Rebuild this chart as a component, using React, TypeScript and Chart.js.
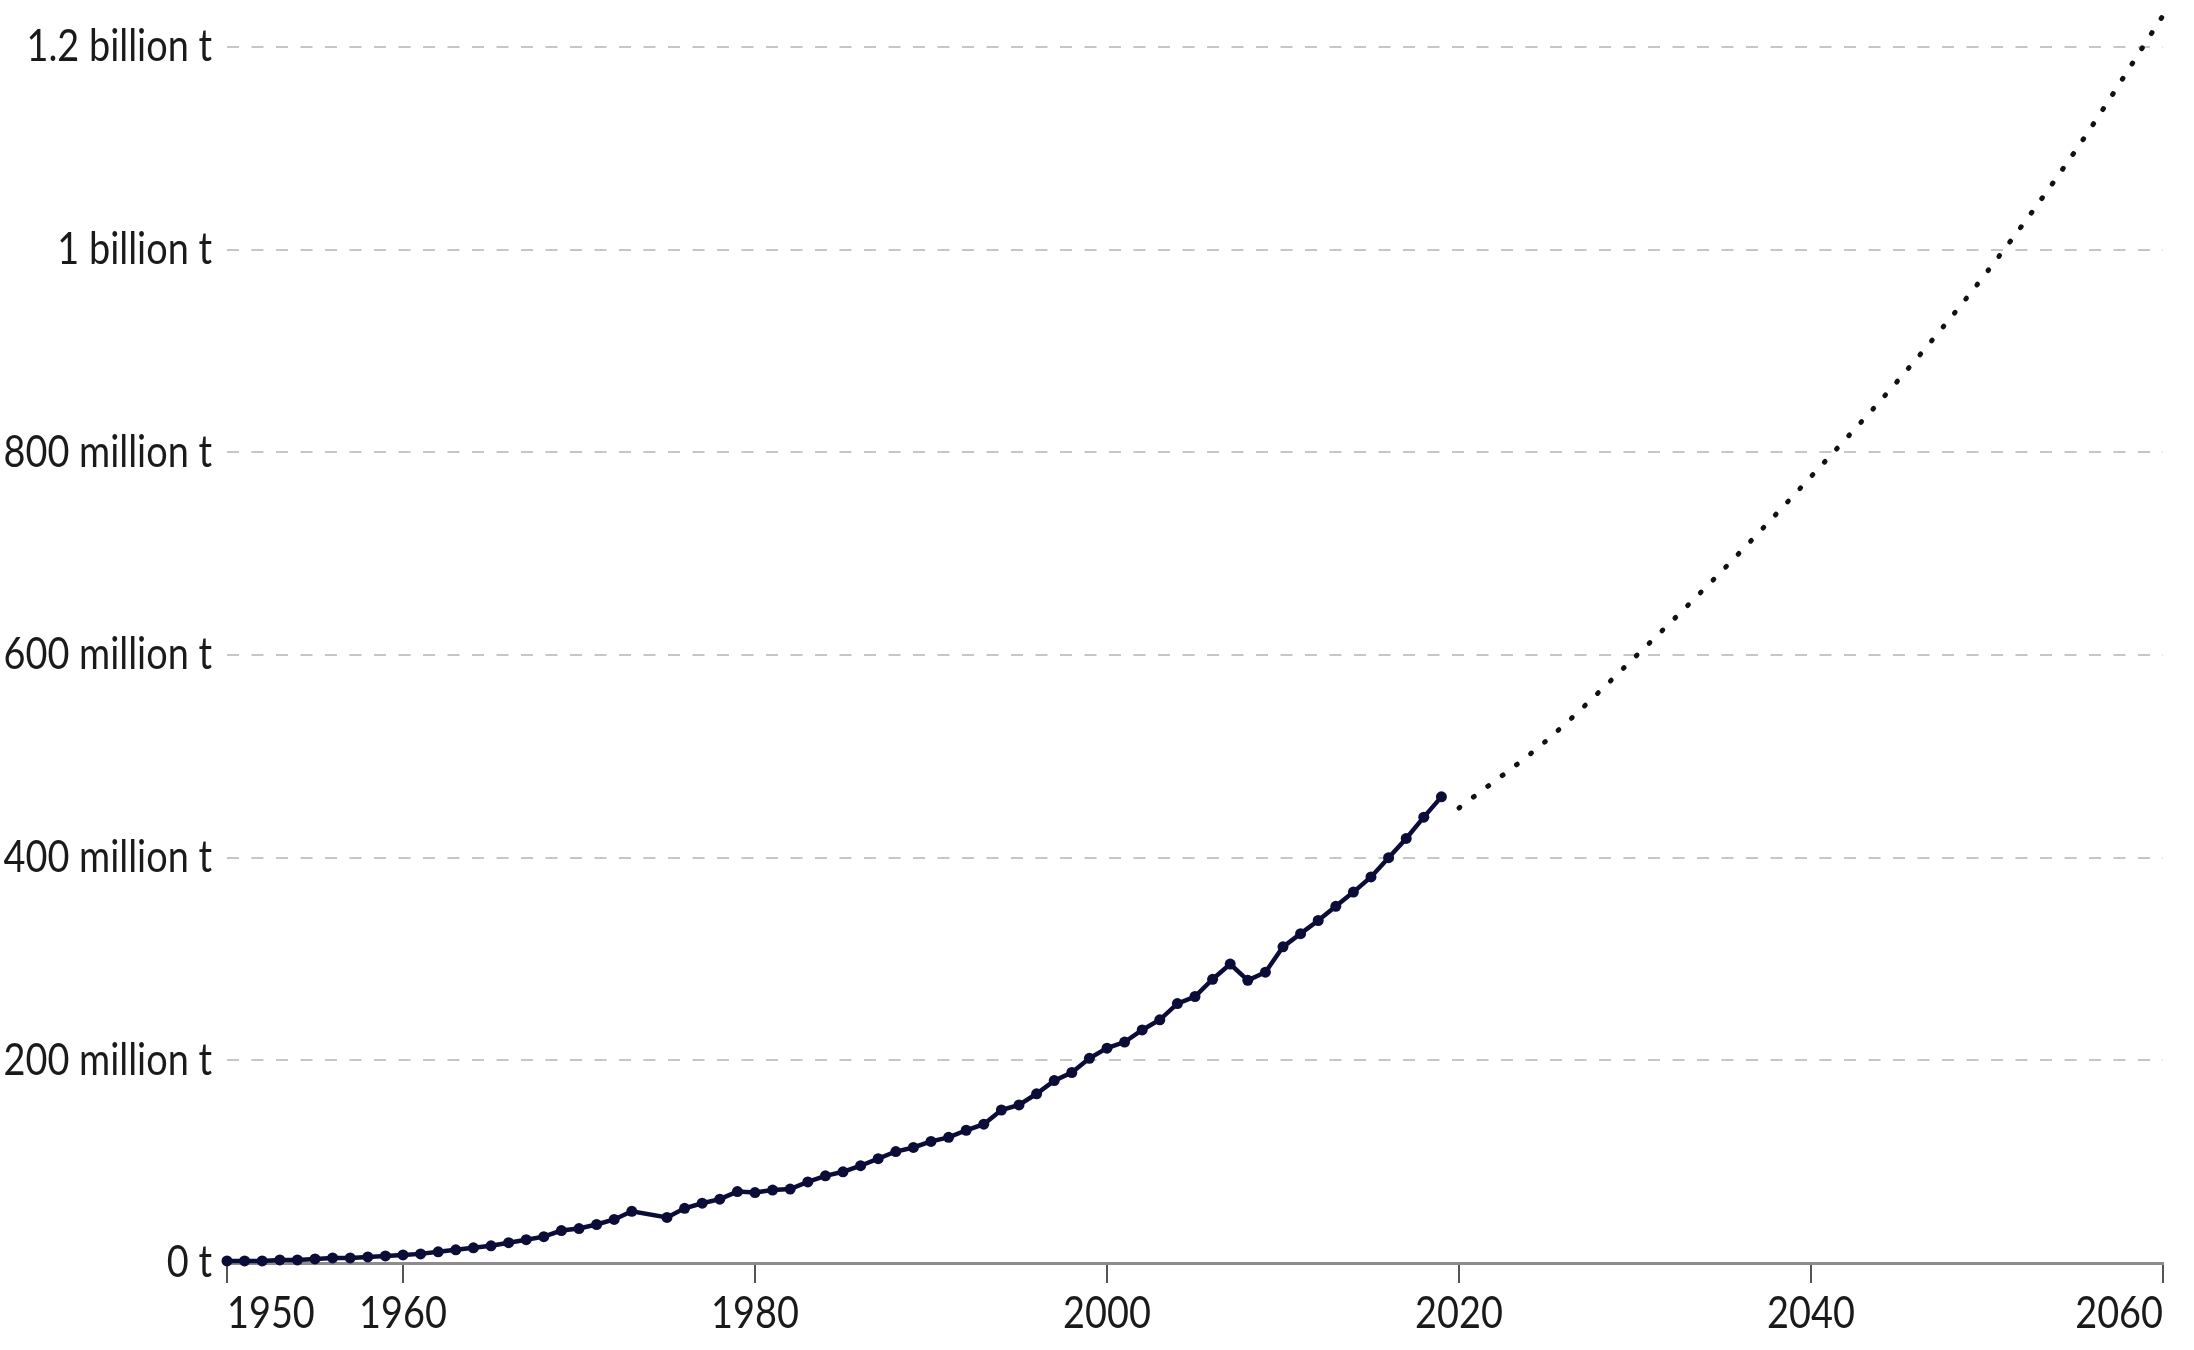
import React, { useEffect, useRef } from "react";
import { Chart, registerables } from "chart.js";

Chart.register(...registerables);

// Historical global plastic production (million tonnes); 1974 has no point
const histYears = [
  1950, 1951, 1952, 1953, 1954, 1955, 1956, 1957, 1958, 1959,
  1960, 1961, 1962, 1963, 1964, 1965, 1966, 1967, 1968, 1969,
  1970, 1971, 1972, 1973, 1975, 1976, 1977, 1978, 1979,
  1980, 1981, 1982, 1983, 1984, 1985, 1986, 1987, 1988, 1989,
  1990, 1991, 1992, 1993, 1994, 1995, 1996, 1997, 1998, 1999,
  2000, 2001, 2002, 2003, 2004, 2005, 2006, 2007, 2008, 2009,
  2010, 2011, 2012, 2013, 2014, 2015, 2016, 2017, 2018, 2019,
];
const histValues = [
  2, 2, 2, 3, 3, 4, 5, 5, 6, 7,
  8, 9, 11, 13, 15, 17, 20, 23, 26, 32,
  34, 38, 43, 51, 45, 54, 59, 63, 70.5,
  69.5, 72, 73, 80, 86, 90, 96, 103, 110, 114,
  120, 124, 131, 137, 151, 156, 167, 180, 188, 202,
  212, 218, 230, 240, 256, 263, 280, 295, 279, 287,
  312, 325, 338, 352, 366, 381, 400, 419, 440, 460,
];

// Projection (million tonnes)
const projYears = [2020, 2025, 2030, 2035, 2040, 2045, 2050, 2055, 2060];
const projValues = [449, 516, 598, 684, 776, 872, 978, 1097, 1231];

const xTickValues = [1950, 1960, 1980, 2000, 2020, 2040, 2060];
const xTickLabels = ["1950", "1960", "1980", "2000", "2020", "2040", "2060"];
const yTickValues = [0, 200e6, 400e6, 600e6, 800e6, 1000e6, 1200e6];
const yTickLabels = [
  "0 t",
  "200 million t",
  "400 million t",
  "600 million t",
  "800 million t",
  "1 billion t",
  "1.2 billion t",
];

const NAVY = "#0c0c38";
const TEXT = "#1a1a1a";
const TEXT_SQUEEZE = 0.86;

const squeezePlugin = {
  id: "squeezeText",
  beforeDraw(chart: any) {
    const ctx: any = chart.ctx;
    if (ctx.__squeezed) return;
    ctx.__squeezed = true;
    const orig = ctx.fillText.bind(ctx);
    ctx.fillText = (t: string, x: number, y: number, mw?: number) => {
      const w = ctx.measureText(t).width * TEXT_SQUEEZE;
      orig(t, x, y, mw === undefined ? w : Math.min(mw, w));
    };
  },
};

export default function App() {
  const ref = useRef<HTMLCanvasElement | null>(null);

  useEffect(() => {
    if (!ref.current) return;
    const font = { family: "Lato", size: 44 };
    const chart = new Chart(ref.current, {
      type: "line",
      data: {
        datasets: [
          {
            data: histYears.map((x, i) => ({ x, y: histValues[i] * 1e6 })),
            borderColor: NAVY,
            backgroundColor: NAVY,
            borderWidth: 4.5,
            pointRadius: 5.5,
            pointBorderWidth: 0,
            pointBackgroundColor: NAVY,
            tension: 0,
            clip: false,
          },
          {
            data: projYears.map((x, i) => ({ x, y: projValues[i] * 1e6 })),
            borderColor: "#111111",
            borderWidth: 5,
            borderDash: [1, 17],
            borderCapStyle: "round",
            pointRadius: 0,
            cubicInterpolationMode: "monotone",
            clip: false,
          },
        ],
      },
      options: {
        responsive: false,
        animation: false,
        layout: { padding: { top: 47, right: 31, bottom: 0, left: 0 } },
        plugins: {
          legend: { display: false },
          tooltip: { enabled: false },
        },
        scales: {
          x: {
            type: "linear",
            min: 1950,
            max: 2060,
            afterBuildTicks: (s: any) => {
              s.ticks = xTickValues.map((v) => ({ value: v }));
            },
            afterFit: (s: any) => {
              s.height = 87;
            },
            grid: {
              drawOnChartArea: false,
              drawTicks: true,
              tickLength: 20,
              color: "#555555",
              lineWidth: 2,
            },
            border: { display: true, color: "#8c8c8c", width: 3 },
            ticks: {
              align: "inner",
              autoSkip: false,
              maxRotation: 0,
              padding: 4,
              color: TEXT,
              font,
              callback: (_v: any, i: number) => xTickLabels[i] ?? "",
            },
          },
          y: {
            type: "linear",
            min: 0,
            max: 1.2e9,
            afterBuildTicks: (s: any) => {
              s.ticks = yTickValues.map((v) => ({ value: v }));
            },
            afterFit: (s: any) => {
              s.width = 227;
            },
            grid: {
              drawTicks: false,
              lineWidth: 2,
              color: (c: any) =>
                c.tick && c.tick.value === 0 ? "rgba(0,0,0,0)" : "#c6c6c6",
            },
            border: { display: false, dash: [12, 12.5] },
            ticks: {
              padding: 15,
              color: TEXT,
              font,
              callback: (_v: any, i: number) => yTickLabels[i] ?? "",
            },
          },
        },
      },
      plugins: [squeezePlugin],
    } as any);
    return () => chart.destroy();
  }, []);

  return (
    <div
      style={{
        position: "fixed",
        left: 0,
        top: 0,
        width: 2194,
        height: 1350,
        background: "#ffffff",
      }}
    >
      <canvas ref={ref} width={2194} height={1350} style={{ width: 2194, height: 1350 }} />
    </div>
  );
}
